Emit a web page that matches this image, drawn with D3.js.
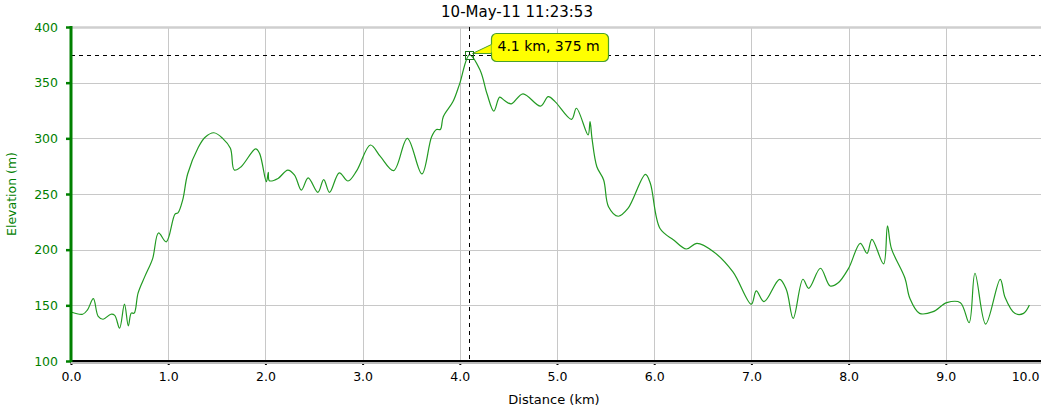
<!DOCTYPE html>
<html>
<head>
<meta charset="utf-8">
<script src="https://cdn.jsdelivr.net/npm/d3@7"></script>
<style>
  html, body { margin: 0; padding: 0; background: #fff; }
  svg { display: block; font-family: "DejaVu Sans", Verdana, sans-serif; }
</style>
</head>
<body>
<svg id="chart" width="1041" height="414"></svg>
<script>
const titleText = "10-May-11 11:23:53";
const xTitle = "Distance (km)";
const yTitle = "Elevation (m)";
const xTicks = [0,1,2,3,4,5,6,7,8,9,10];
const yTicks = [100,150,200,250,300,350,400];
const distKm = [0.00,0.12,0.17,0.23,0.28,0.33,0.41,0.45,0.50,0.55,0.59,0.62,0.65,0.69,0.76,0.84,0.90,0.98,1.07,1.10,1.15,1.20,1.31,1.38,1.47,1.56,1.64,1.68,1.75,1.90,1.94,2.01,2.03,2.04,2.13,2.23,2.30,2.37,2.44,2.54,2.60,2.66,2.76,2.85,2.94,3.08,3.18,3.32,3.46,3.61,3.71,3.76,3.80,3.83,3.93,4.00,4.10,4.21,4.28,4.35,4.41,4.46,4.53,4.65,4.83,4.91,4.98,5.15,5.20,5.32,5.34,5.36,5.41,5.48,5.53,5.63,5.73,5.91,5.96,6.06,6.20,6.33,6.44,6.61,6.81,7.00,7.05,7.13,7.29,7.36,7.43,7.53,7.59,7.71,7.81,7.89,8.00,8.12,8.19,8.24,8.36,8.40,8.44,8.58,8.63,8.73,8.87,9.01,9.15,9.24,9.30,9.41,9.56,9.61,9.71,9.80,9.86];
const elevM = [144,142,146,156,140,137.5,142,141,129.5,151,131.5,143,143,161,176,192,215,207,232,233,245,268,292,301,305,300,291,271.5,274.5,290.5,286.5,261,269.5,262,264,271.5,267,253.5,264.5,251.5,263,251.5,269,261.7,271,294,284,271,300,268,301.5,308,308,319.4,333,349.4,375,361,340,324.5,337,334,331,340,329,337.4,333,317,327,303,315,300,274.5,262.6,238.6,230,237,267.7,259.6,219,208.7,200.6,205.7,198.2,180,151,163,153.3,173.4,164,138.3,173.4,165.3,183.3,167.4,170,183.3,205.7,196.7,209.3,187.2,221.3,201.2,174.3,156.3,142.8,144.3,152.4,152.4,134.4,178.8,133.2,173.4,157,142.8,142.8,150.3];
const cursorKm = 4.1;
const cursorM = 375;
const tipText = "4.1 km, 375 m";

const W = 1041, H = 414;
const svg = d3.select("#chart");
const x = d3.scaleLinear().domain([0,10]).range([71,1043]);
const y = d3.scaleLinear().domain([100,400]).range([361,27]);
const green = "#008000";

// grid
const grid = svg.append("g");
grid.selectAll("line.v").data(xTicks.slice(1)).join("line")
  .attr("x1", d => Math.round(x(d)) + 0.5).attr("x2", d => Math.round(x(d)) + 0.5)
  .attr("y1", y(400)).attr("y2", y(100))
  .attr("stroke", "#c8c8c8").attr("stroke-width", 1);
grid.selectAll("line.h").data(yTicks.slice(1)).join("line")
  .attr("x1", x(0)).attr("x2", W)
  .attr("y1", d => Math.round(y(d)) + 0.5).attr("y2", d => Math.round(y(d)) + 0.5)
  .attr("stroke", d => d === 400 ? "#cfcfcf" : "#c8c8c8")
  .attr("stroke-width", d => d === 400 ? 2.5 : 1);

// line
const line = d3.line().x((d,i) => x(distKm[i])).y(d => y(d)).curve(d3.curveCatmullRom.alpha(0.5));
svg.append("path").datum(elevM).attr("d", line)
  .attr("fill", "none").attr("stroke", "#229a22").attr("stroke-width", 1.2);

// crosshair
svg.append("line").attr("x1", x(0)).attr("x2", W)
  .attr("y1", Math.round(y(cursorM)) + 0.5).attr("y2", Math.round(y(cursorM)) + 0.5)
  .attr("stroke", "#000").attr("stroke-dasharray", "4,4");
svg.append("line").attr("x1", Math.round(x(cursorKm)) - 0.5).attr("x2", Math.round(x(cursorKm)) - 0.5)
  .attr("y1", y(400)).attr("y2", y(100))
  .attr("stroke", "#000").attr("stroke-dasharray", "4,4");

// x axis
const xAxis = d3.axisBottom(x).tickValues(xTicks).tickFormat(d3.format(".1f")).tickSize(4).tickPadding(7);
const gx = svg.append("g").attr("transform", `translate(0,${y(100)})`).call(xAxis);
gx.select(".domain").remove();
gx.selectAll(".tick line").attr("stroke", "#000").attr("stroke-width", 2);
gx.selectAll(".tick text").attr("fill", "#000").attr("font-size", "12.5px")
  .attr("font-family", "DejaVu Sans, Verdana, sans-serif")
  .each(function(d) {
    const bb = this.getBBox();
    const cx = x(d);
    if (cx + bb.width / 2 > W - 2) {
      d3.select(this).attr("text-anchor", "end").attr("x", W - 2 - cx);
    }
  });
svg.append("line").attr("x1", x(0)).attr("x2", W).attr("y1", y(100) + 2).attr("y2", y(100) + 2)
  .attr("stroke", "#bbbbbb").attr("stroke-width", 2);
svg.append("line").attr("x1", x(0)).attr("x2", W).attr("y1", y(100)).attr("y2", y(100))
  .attr("stroke", "#000").attr("stroke-width", 2);

// y axis
const yAxis = d3.axisLeft(y).tickValues(yTicks).tickFormat(d3.format("d")).tickSize(5).tickPadding(8);
const gy = svg.append("g").attr("transform", `translate(${x(0)},0)`).call(yAxis);
gy.select(".domain").remove();
gy.selectAll(".tick line").attr("stroke", green).attr("stroke-width", 2.5);
gy.selectAll(".tick text").attr("fill", green).attr("font-size", "12.5px")
  .attr("font-family", "DejaVu Sans, Verdana, sans-serif");
svg.append("line").attr("x1", x(0)).attr("x2", x(0)).attr("y1", y(400) - 1).attr("y2", y(100) + 1)
  .attr("stroke", green).attr("stroke-width", 3);

// titles
svg.append("text").attr("x", 517).attr("y", 16.5).attr("text-anchor", "middle")
  .attr("font-size", "15px").attr("fill", "#000").text(titleText);
svg.append("text").attr("x", (x(0) + W) / 2 - 2).attr("y", 404).attr("text-anchor", "middle")
  .attr("font-size", "13px").attr("fill", "#000").text(xTitle);
svg.append("text").attr("transform", `translate(16,${(y(400) + y(100)) / 2}) rotate(-90)`)
  .attr("text-anchor", "middle").attr("font-size", "12.5px").attr("fill", green).text(yTitle);

// marker + tooltip
const mx = Math.round(x(cursorKm)) - 0.5, my = Math.round(y(cursorM)) + 0.5;
const tip = svg.append("g");
const bx = mx + 22, by = my - 22, bw = 117, bh = 28;
tip.append("path")
  .attr("d", `M${mx + 3},${my - 2} L${bx + 2},${by + 10} L${bx + 2},${by + 20} Z`)
  .attr("fill", "#ffff00").attr("stroke", "#4aa02c").attr("stroke-width", 1);
tip.append("rect").attr("x", bx).attr("y", by).attr("width", bw).attr("height", bh)
  .attr("rx", 5).attr("fill", "#ffff00").attr("stroke", "#4aa02c").attr("stroke-width", 1.2);
tip.append("path").attr("d", `M${bx + 1},${by + 11} L${bx + 1},${by + 19}`)
  .attr("stroke", "#ffff00").attr("stroke-width", 2);
tip.append("text").attr("x", bx + 6).attr("y", by + 17).attr("font-size", "14px")
  .attr("fill", "#000").text(tipText);
svg.append("rect").attr("x", mx - 4).attr("y", my - 4).attr("width", 8).attr("height", 8)
  .attr("fill", "none").attr("stroke", "#1e7a1e").attr("stroke-width", 1);
</script>
</body>
</html>
